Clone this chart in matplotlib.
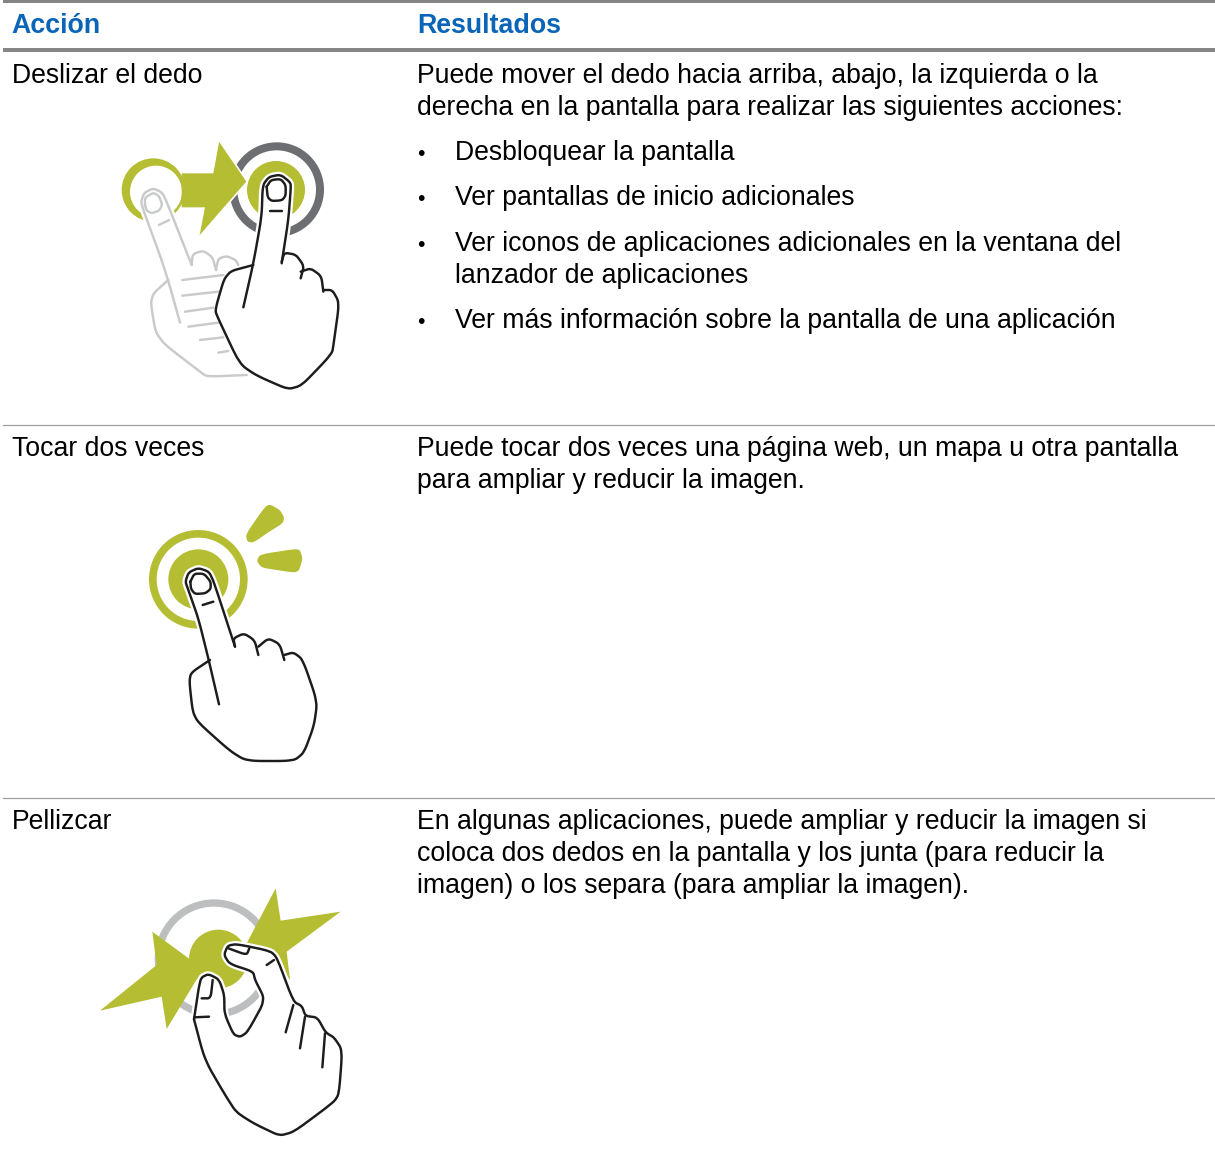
import numpy as np
import matplotlib
matplotlib.use('Agg')
import matplotlib.pyplot as plt
from matplotlib.patches import Circle, Polygon

plt.rcParams['font.family'] = ['Liberation Sans', 'DejaVu Sans']

W, H = 1215, 1168
GREEN = '#b5bd33'
DARK = '#1c1c1c'
LIGHT = '#c9cacc'
BLUE = '#0a64b8'

headers = ['Acción', 'Resultados']
actions = ['Deslizar el dedo', 'Tocar dos veces', 'Pellizcar']
result_1a = ['Puede mover el dedo hacia arriba, abajo, la izquierda o la',
             'derecha en la pantalla para realizar las siguientes acciones:']
bullets = ['Desbloquear la pantalla', 'Ver pantallas de inicio adicionales',
           'Ver iconos de aplicaciones adicionales en la ventana del\nlanzador de aplicaciones',
           'Ver más información sobre la pantalla de una aplicación']
result_2 = ['Puede tocar dos veces una página web, un mapa u otra pantalla',
            'para ampliar y reducir la imagen.']
result_3 = ['En algunas aplicaciones, puede ampliar y reducir la imagen si',
            'coloca dos dedos en la pantalla y los junta (para reducir la',
            'imagen) o los separa (para ampliar la imagen).']

# icon outlines, in 3x crop coordinates
swipe_arrow = [(275, 130), (370, 130), (388, 32), (472, 155), (328, 320), (345, 232), (275, 232)]
arrow_edge = [(388, 32), (472, 155), (328, 320)]
grey_finger = [(270, 578), (240, 470), (215, 390), (160, 240), (153, 215), (163, 188), (190, 175),
               (217, 188), (232, 220), (305, 405)]
grey_nail = [(165, 225), (165, 203), (190, 188), (207, 198), (217, 225), (207, 242), (185, 250), (170, 242), (165, 225)]
grey_crease = [(207, 285), (237, 270)]
grey_knuckle1 = [(305, 405), (308, 372), (340, 362), (368, 382), (378, 420)]
grey_knuckle2 = [(378, 420), (385, 386), (410, 378), (437, 390), (445, 405)]
grey_palm = [(235, 450), (190, 490), (182, 520), (200, 625), (330, 725), (350, 740), (470, 735)]
grey_lines = [[(277, 450), (400, 435)], [(277, 497), (385, 485)], [(285, 545), (370, 533)],
              [(295, 590), (385, 578)], [(330, 630), (400, 622)], [(385, 668), (415, 663)]]

swipe_finger = [(460, 532), (490, 400), (515, 260), (518, 165), (538, 140), (572, 134), (602, 158),
                (602, 180), (595, 270), (575, 400)]
swipe_nail = [(530, 170), (543, 150), (572, 147), (587, 165), (587, 197), (576, 211), (545, 213), (533, 202), (530, 170)]
swipe_crease = [(540, 244), (575, 244)]
swipe_back = [(575, 395), (583, 368), (618, 374), (642, 408), (632, 445)]
swipe_mid = [(632, 425), (662, 415), (694, 438), (700, 485)]
swipe_body = [(700, 480), (727, 480), (748, 518), (731, 640), (726, 672), (615, 787), (500, 737),
              (449, 702), (383, 562), (375, 540), (408, 427), (490, 405)]

tap_burst1 = [(415, 112), (370, 143), (352, 140), (347, 118), (405, 35), (420, 28), (450, 45), (463, 68), (458, 85), (415, 112)]
tap_burst2 = [(440, 225), (395, 218), (380, 198), (390, 178), (495, 162), (510, 165), (518, 190), (508, 225), (495, 233), (440, 225)]
tap_finger = [(267, 628), (235, 490), (205, 370), (175, 285), (166, 260), (176, 232), (205, 219),
              (237, 230), (252, 262), (315, 455)]
tap_nail = [(181, 260), (193, 236), (222, 236), (242, 260), (242, 282), (226, 295), (195, 297), (183, 282), (181, 260)]
tap_crease = [(218, 330), (250, 320)]
tap_knuckle1 = [(315, 455), (310, 430), (342, 415), (374, 436), (385, 480)]
tap_knuckle2 = [(385, 455), (415, 430), (449, 447), (463, 495)]
tap_body = [(463, 480), (490, 472), (518, 493), (562, 620), (552, 692), (522, 773), (491, 798), (349, 798),
            (299, 767), (204, 682), (188, 650), (178, 560), (183, 533), (240, 495)]

pinch_star1 = [(187, 155), (300, 238), (325, 290), (230, 447), (215, 350), (30, 392), (200, 255)]
pinch_star2 = [(557, 25), (572, 122), (752, 95), (590, 215), (600, 300), (545, 230), (470, 190)]
pinch_outline = [(312, 418), (325, 330), (333, 293), (355, 282), (387, 298), (403, 345), (403, 400), (430, 463),
                 (450, 471), (472, 457), (526, 360), (495, 300), (490, 275), (419, 252), (402, 225), (413, 197),
                 (440, 192), (541, 213), (561, 233), (610, 365), (636, 378), (646, 408), (682, 412), (707, 458),
                 (732, 472), (757, 510), (747, 642), (731, 667), (585, 775), (494, 732), (439, 697), (409, 651),
                 (359, 566), (339, 520), (312, 418)]
pinch_details = [[(335, 355), (362, 355), (368, 300)], [(312, 412), (357, 410)], [(415, 205), (470, 225), (478, 205)],
                 [(530, 255), (552, 240)], [(610, 375), (587, 457)], [(645, 410), (630, 505)], [(705, 460), (697, 562)]]


def smooth(pts, n=3, cut=0.18):
    # corner cutting, the ends stay where they are
    p = np.array(pts, dtype=float)
    for _ in range(n):
        q = [p[0]]
        for a, b in zip(p[:-1], p[1:]):
            q.append((1-cut)*a + cut*b)
            q.append(cut*a + (1-cut)*b)
        q.append(p[-1])
        p = np.array(q)
    return p


def icon(pts, ox, oy):
    p = np.array(pts, dtype=float)
    return np.column_stack((ox + p[:, 0]/3, oy + p[:, 1]/3))


def stroke(pts, ox, oy, color=DARK, lw=1.75, soft=True, z=5):
    p = icon(smooth(pts) if soft else pts, ox, oy)
    ax.plot(p[:, 0], p[:, 1], color=color, lw=lw, solid_capstyle='round', solid_joinstyle='round', zorder=z)


def shape(pts, ox, oy, color=GREEN, soft=False, z=2):
    p = icon(smooth(pts) if soft else pts, ox, oy)
    ax.add_patch(Polygon(p, closed=True, fc=color, ec='none', zorder=z))


def disk(cx, cy, r, ox, oy, color, z=1):
    ax.add_patch(Circle((ox + cx/3, oy + cy/3), r/3, fc=color, ec='none', zorder=z))


fig = plt.figure(figsize=(W/100, H/100), dpi=100)
ax = fig.add_axes([0, 0, 1, 1])
ax.set_xlim(0, W)
ax.set_ylim(H, 0)
ax.axis('off')

# table rules
ax.fill_between([3, W], 0, 3, color='#858585', lw=0)
ax.fill_between([3, W], 48, 52, color='#858585', lw=0)
ax.plot([3, W], [425, 425], color='#a0a0a0', lw=0.9)
ax.plot([3, W], [798, 798], color='#a0a0a0', lw=0.9)

FS = 19.16
for x, t in zip([11.5, 417.5], headers):
    ax.text(x, 33, t, color=BLUE, fontsize=19.25, fontweight='bold', va='baseline')
for y, t in zip([83, 456, 829], actions):
    ax.text(12, y, t, color='black', fontsize=FS, va='baseline')
for y, t in zip([83, 115], result_1a):
    ax.text(417, y, t, color='black', fontsize=FS, va='baseline')
for y, t in zip([160, 205, 251, 328], bullets):
    ax.text(417, y, '•', color='black', fontsize=FS*0.8, va='baseline')
    for i, line in enumerate(t.split('\n')):
        ax.text(455, y + 32*i, line, color='black', fontsize=FS, va='baseline')
for y, t in zip([456, 488], result_2):
    ax.text(417, y, t, color='black', fontsize=FS, va='baseline')
for y, t in zip([829, 861, 893], result_3):
    ax.text(417, y, t, color='black', fontsize=FS, va='baseline')

# swipe icon
ox, oy = 90, 130
disk(560, 179, 142, ox, oy, '#6d6e71')
disk(560, 179, 118, ox, oy, 'white')
disk(558, 180, 87, ox, oy, GREEN)
disk(190, 180, 95, ox, oy, GREEN)
disk(198, 185, 78, ox, oy, 'white')
shape(swipe_arrow, ox, oy)
stroke(arrow_edge, ox, oy, 'white', lw=1.2, soft=False, z=2.5)
shape(grey_finger + grey_knuckle1 + grey_knuckle2 + [(470, 735), (350, 740), (200, 625), (182, 520), (190, 490)], ox, oy, 'white', z=3)
stroke(grey_finger, ox, oy, 'white', lw=5, z=3)
for part in [grey_finger, grey_nail, grey_crease, grey_knuckle1, grey_knuckle2, grey_palm] + grey_lines:
    stroke(part, ox, oy, LIGHT, z=3.5)
shape(swipe_finger + swipe_back + swipe_mid + swipe_body, ox, oy, 'white', soft=True, z=4)
stroke(swipe_finger, ox, oy, 'white', lw=5, z=4)
for part in [swipe_finger, swipe_nail, swipe_crease, swipe_back, swipe_mid, swipe_body]:
    stroke(part, ox, oy)

# double tap icon
ox, oy = 130, 495
disk(205, 253, 148, ox, oy, GREEN)
disk(205, 253, 125, ox, oy, 'white')
disk(205, 253, 90, ox, oy, GREEN)
shape(tap_burst1, ox, oy, soft=True)
shape(tap_burst2, ox, oy, soft=True)
shape(tap_finger + tap_knuckle1 + tap_knuckle2 + tap_body, ox, oy, 'white', soft=True, z=4)
stroke(tap_finger, ox, oy, 'white', lw=5, z=4)
for part in [tap_finger, tap_nail, tap_crease, tap_knuckle1, tap_knuckle2, tap_body]:
    stroke(part, ox, oy)

# pinch icon
ox, oy = 90, 880
disk(372, 236, 178, ox, oy, '#bcbec0')
disk(372, 236, 156, ox, oy, 'white')
disk(385, 237, 88, ox, oy, GREEN, z=2)
shape(pinch_star1, ox, oy)
shape(pinch_star2, ox, oy)
shape(pinch_outline, ox, oy, 'white', soft=True, z=4)
stroke(pinch_outline, ox, oy, 'white', lw=5, z=4)
stroke(pinch_outline, ox, oy)
for part in pinch_details:
    stroke(part, ox, oy)

fig.savefig('out.png', dpi=100)
